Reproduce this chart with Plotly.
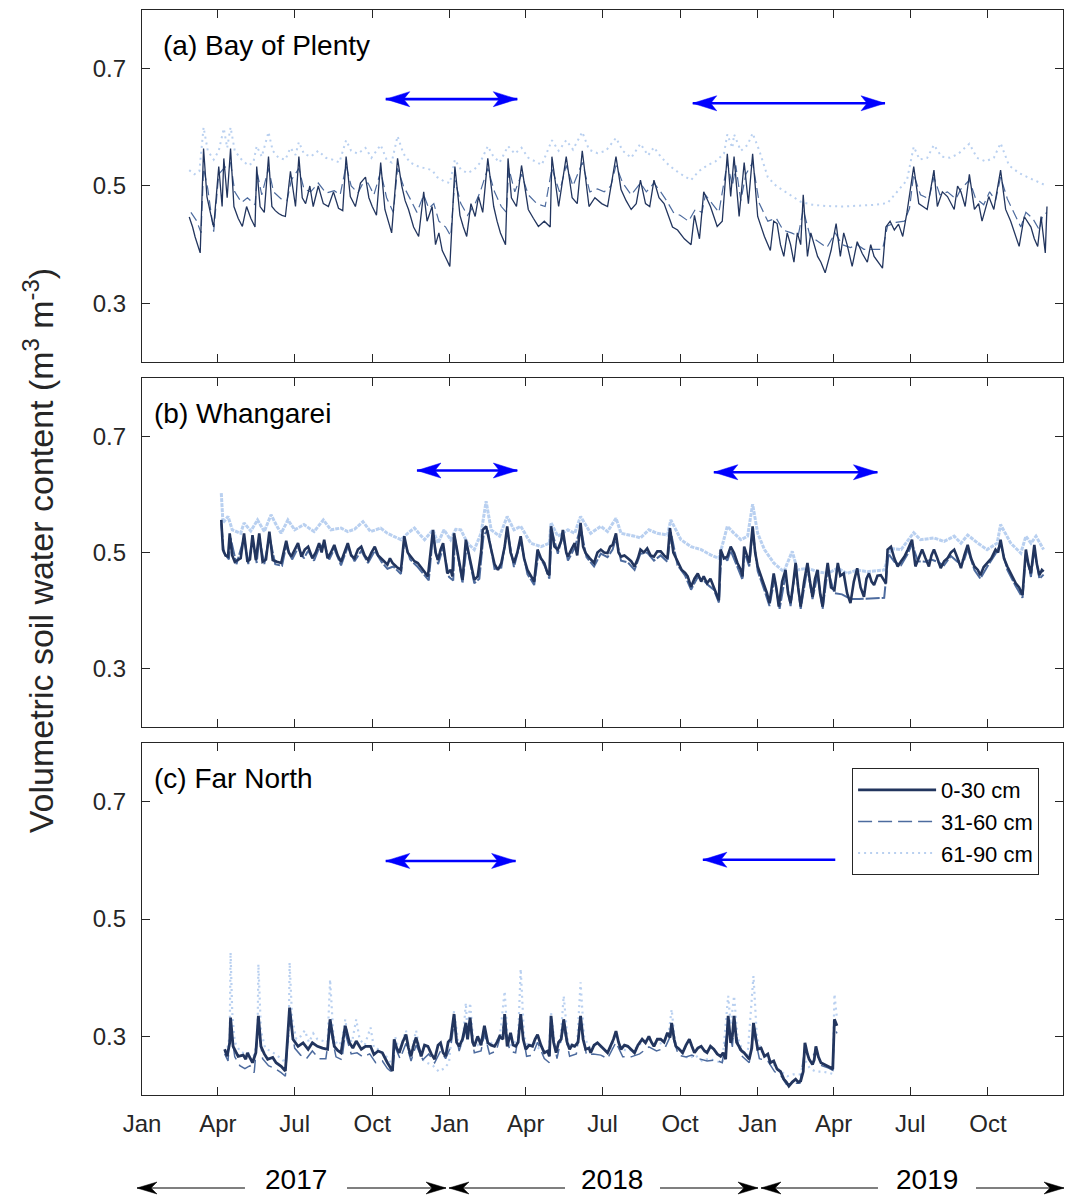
import pandas as pd
import plotly.graph_objects as go

# Soil water content at three depths, three sites.
# Each record: (days since 1 Jan 2017, volumetric water content m3/m3)
START = pd.Timestamp("2017-01-01")

bop_0_30 = [
    (56, .447), (60, .430), (63, .413), (69, .386), (73, .564), (77, .482), (81, .455), (85, .430),
    (91, .533), (95, .465), (97, .547), (101, .480), (105, .564), (109, .465), (114, .445), (119, .431),
    (124, .465), (129, .445), (134, .430), (136, .533), (140, .465), (145, .455), (150, .550), (154, .465),
    (158, .458), (162, .453), (166, .450), (170, .448), (176, .525), (182, .465), (186, .550), (190, .480),
    (194, .470), (199, .500), (203, .465), (209, .500), (215, .470), (221, .465), (227, .490), (233, .462),
    (238, .458), (242, .550), (247, .482), (253, .465), (259, .505), (265, .515), (269, .480), (273, .465),
    (278, .450), (283, .540), (288, .460), (292, .438), (296, .420), (303, .547), (308, .500), (312, .475),
    (316, .460), (322, .430), (328, .414), (334, .490), (338, .440), (344, .465), (348, .400), (352, .420),
    (356, .390), (361, .375), (365, .363), (371, .533), (377, .450), (381, .430), (385, .414), (390, .470),
    (395, .448), (399, .482), (404, .455), (410, .547), (417, .465), (421, .440), (425, .420), (431, .400),
    (434, .547), (438, .480), (444, .465), (450, .535), (458, .460), (464, .445), (470, .431), (477, .440),
    (484, .430), (486, .550), (494, .465), (503, .550), (510, .480), (516, .470), (522, .560), (530, .465),
    (537, .480), (545, .470), (552, .465), (562, .550), (568, .494), (574, .475), (580, .460), (586, .470),
    (591, .510), (597, .470), (602, .465), (607, .510), (613, .480), (619, .470), (624, .450), (629, .430),
    (635, .425), (643, .410), (651, .400), (655, .450), (661, .410), (666, .490), (674, .465), (682, .431),
    (688, .440), (694, .555), (698, .482), (702, .550), (708, .448), (714, .540), (719, .470), (724, .555),
    (730, .448), (738, .414), (745, .390), (749, .440), (753, .436), (757, .400), (761, .380), (765, .420),
    (769, .400), (773, .370), (777, .420), (781, .400), (784, .485), (789, .380), (793, .420), (797, .400),
    (801, .380), (805, .370), (810, .352), (817, .390), (823, .436), (828, .380), (832, .420), (836, .400),
    (842, .363), (848, .405), (854, .385), (860, .370), (864, .400), (868, .380), (873, .370), (878, .360),
    (882, .430), (887, .440), (892, .425), (897, .435), (902, .414), (907, .455), (915, .533), (921, .470),
    (926, .465), (931, .460), (939, .527), (943, .465), (949, .490), (955, .482), (963, .460), (967, .500),
    (971, .490), (976, .465), (981, .520), (987, .460), (992, .470), (996, .440), (1004, .482), (1010, .460),
    (1018, .527), (1024, .460), (1030, .440), (1035, .420), (1040, .397), (1046, .448), (1050, .440),
    (1054, .430), (1058, .410), (1062, .397), (1066, .448), (1071, .386), (1073, .465),
]

bop_31_60 = [
    (58, .455), (65, .440), (70, .420), (73, .530), (78, .495), (85, .422), (91, .520), (97, .530),
    (105, .540), (110, .490), (118, .472), (125, .480), (134, .468), (137, .520), (142, .485), (150, .530),
    (156, .490), (165, .478), (172, .475), (177, .510), (186, .530), (192, .495), (200, .490), (209, .505),
    (218, .488), (228, .492), (235, .485), (242, .535), (248, .500), (256, .488), (262, .505), (268, .505),
    (275, .485), (283, .525), (290, .480), (298, .455), (303, .530), (310, .500), (318, .478), (326, .455),
    (334, .485), (340, .462), (346, .470), (352, .440), (360, .430), (366, .415), (371, .510), (378, .470),
    (386, .450), (395, .470), (401, .490), (410, .530), (418, .490), (426, .465), (432, .455), (435, .530),
    (442, .490), (450, .520), (458, .485), (468, .470), (478, .465), (486, .530), (495, .490), (503, .535),
    (511, .500), (522, .540), (531, .490), (540, .495), (548, .490), (556, .500), (562, .535), (570, .505),
    (580, .485), (591, .505), (598, .490), (607, .505), (615, .490), (622, .475), (630, .455), (638, .450),
    (648, .440), (656, .460), (664, .455), (668, .485), (676, .470), (684, .455), (694, .540), (700, .500),
    (704, .535), (710, .475), (716, .520), (724, .540), (732, .470), (742, .440), (752, .445), (760, .425),
    (770, .420), (778, .415), (784, .460), (792, .415), (802, .405), (812, .395), (822, .420), (830, .400),
    (840, .395), (848, .400), (856, .392), (866, .392), (878, .392), (884, .432), (894, .438), (904, .440),
    (910, .462), (915, .520), (923, .485), (933, .478), (939, .515), (946, .485), (955, .490), (965, .478),
    (971, .495), (981, .510), (988, .480), (998, .468), (1005, .490), (1012, .475), (1018, .515),
    (1026, .478), (1034, .455), (1042, .430), (1048, .455), (1056, .445), (1064, .425), (1068, .450),
    (1073, .455),
]

bop_61_90 = [
    (56, .527), (62, .520), (68, .525), (73, .600), (78, .560), (85, .545), (91, .560), (97, .598),
    (101, .565), (105, .600), (110, .560), (118, .545), (126, .535), (132, .540), (136, .568), (142, .550),
    (150, .592), (155, .560), (162, .548), (170, .545), (176, .565), (182, .553), (186, .575), (192, .555),
    (200, .550), (209, .560), (218, .548), (226, .545), (234, .540), (242, .578), (248, .560), (256, .555),
    (265, .565), (272, .548), (283, .570), (290, .545), (296, .540), (303, .585), (310, .555), (318, .540),
    (328, .533), (336, .530), (344, .527), (350, .515), (358, .508), (365, .505), (371, .545), (378, .528),
    (386, .522), (394, .528), (401, .540), (410, .568), (416, .552), (424, .540), (434, .568), (442, .555),
    (450, .565), (458, .548), (466, .542), (474, .536), (486, .578), (494, .560), (503, .578), (511, .562),
    (522, .592), (530, .562), (540, .556), (550, .560), (562, .582), (570, .560), (580, .548), (591, .572),
    (600, .552), (607, .566), (615, .550), (625, .535), (637, .522), (651, .510), (660, .525), (670, .535),
    (680, .542), (690, .555), (694, .588), (700, .565), (702, .588), (710, .560), (718, .570), (724, .590),
    (732, .560), (742, .515), (752, .500), (765, .488), (781, .473), (795, .468), (810, .466), (830, .465),
    (850, .466), (870, .468), (884, .471), (895, .490), (907, .510), (915, .567), (922, .545), (931, .548),
    (939, .570), (948, .550), (958, .548), (968, .555), (981, .572), (990, .548), (1000, .542), (1010, .548),
    (1018, .573), (1028, .535), (1040, .522), (1050, .515), (1060, .508), (1073, .500),
]

wha_0_30 = [
    (94, .556), (96, .505), (99, .495), (102, .493), (104, .533), (107, .495), (110, .484), (114, .488),
    (117, .490), (121, .533), (125, .484), (128, .488), (131, .530), (135, .487), (139, .533), (143, .484),
    (147, .488), (151, .536), (155, .487), (160, .484), (165, .482), (171, .520), (174, .500), (177, .493),
    (181, .505), (185, .516), (189, .493), (193, .505), (197, .510), (202, .490), (206, .500), (210, .516),
    (213, .500), (216, .522), (220, .490), (224, .500), (228, .513), (232, .495), (236, .484), (240, .500),
    (244, .516), (248, .495), (252, .490), (256, .505), (260, .510), (264, .495), (268, .487), (272, .500),
    (276, .510), (280, .495), (283, .490), (287, .485), (291, .479), (294, .490), (297, .482), (302, .475),
    (307, .470), (311, .528), (315, .500), (319, .493), (323, .485), (327, .482), (333, .470), (339, .459),
    (345, .539), (348, .500), (351, .487), (354, .505), (357, .516), (362, .464), (366, .470), (368, .459),
    (370, .533), (376, .482), (380, .453), (384, .522), (389, .490), (394, .453), (398, .459), (402, .500),
    (404, .539), (408, .545), (414, .505), (418, .480), (422, .470), (426, .482), (430, .510), (433, .545),
    (437, .500), (441, .482), (445, .500), (449, .528), (453, .490), (457, .470), (461, .460), (465, .450),
    (469, .505), (473, .490), (477, .482), (481, .464), (483, .461), (485, .545), (489, .510), (493, .505),
    (497, .520), (499, .539), (503, .500), (505, .493), (509, .505), (513, .516), (516, .495), (520, .551),
    (523, .510), (526, .499), (531, .490), (536, .482), (540, .500), (544, .505), (548, .500), (552, .499),
    (555, .510), (558, .513), (562, .533), (565, .500), (568, .493), (572, .495), (576, .490), (580, .485),
    (584, .476), (588, .490), (591, .505), (595, .500), (599, .507), (603, .495), (607, .493), (611, .502),
    (615, .502), (619, .495), (623, .490), (626, .542), (630, .500), (635, .484), (640, .470), (644, .465),
    (647, .459), (651, .441), (655, .455), (659, .464), (663, .450), (666, .459), (670, .447), (674, .455),
    (678, .441), (684, .418), (686, .505), (690, .490), (694, .493), (698, .510), (702, .499), (706, .482),
    (710, .470), (712, .459), (714, .510), (717, .495), (720, .482), (724, .545), (727, .500), (730, .476),
    (734, .460), (738, .441), (741, .430), (744, .413), (749, .464), (752, .440), (755, .407), (759, .450),
    (763, .470), (766, .430), (769, .413), (772, .445), (775, .482), (778, .440), (781, .407), (785, .450),
    (789, .482), (792, .450), (795, .424), (798, .455), (801, .470), (804, .430), (807, .407), (810, .450),
    (813, .482), (817, .440), (821, .436), (825, .482), (828, .460), (832, .464), (836, .430), (840, .413),
    (844, .450), (848, .473), (852, .440), (856, .424), (859, .455), (862, .464), (865, .450), (868, .444),
    (872, .460), (876, .461), (880, .450), (882, .447), (884, .505), (888, .510), (892, .490), (896, .476),
    (900, .485), (904, .493), (908, .505), (913, .522), (917, .476), (921, .490), (925, .505), (929, .490),
    (933, .476), (936, .495), (939, .505), (943, .490), (947, .473), (951, .485), (955, .490), (959, .500),
    (963, .505), (967, .490), (971, .473), (975, .495), (979, .513), (983, .490), (987, .476), (991, .470),
    (994, .461), (998, .475), (1002, .482), (1007, .490), (1012, .505), (1015, .500), (1018, .522),
    (1022, .490), (1026, .476), (1031, .460), (1036, .447), (1040, .440), (1044, .427), (1048, .505),
    (1051, .480), (1054, .464), (1058, .513), (1061, .480), (1064, .461), (1067, .470), (1069, .467),
]

wha_31_60 = [
    (94, .550), (97, .500), (103, .488), (105, .525), (112, .480), (121, .525), (126, .480), (131, .522),
    (136, .482), (139, .525), (145, .480), (151, .528), (158, .480), (166, .477), (171, .512), (178, .488),
    (185, .508), (192, .490), (197, .503), (204, .486), (210, .508), (216, .515), (222, .488), (228, .506),
    (236, .478), (244, .510), (252, .485), (260, .503), (268, .482), (276, .503), (284, .484), (291, .472),
    (298, .476), (307, .463), (311, .520), (318, .488), (327, .475), (336, .460), (340, .452), (345, .530),
    (351, .480), (357, .508), (364, .458), (369, .452), (371, .525), (380, .447), (385, .512), (394, .447),
    (400, .455), (405, .530), (410, .538), (418, .472), (426, .474), (433, .538), (441, .475), (449, .520),
    (457, .463), (465, .444), (470, .498), (478, .475), (483, .455), (486, .538), (493, .498), (499, .530),
    (505, .486), (513, .508), (520, .543), (527, .492), (536, .476), (544, .498), (552, .492), (558, .505),
    (562, .525), (568, .486), (576, .483), (584, .470), (591, .498), (599, .500), (607, .486), (615, .495),
    (623, .484), (627, .535), (635, .478), (644, .460), (651, .436), (659, .458), (666, .452), (672, .443),
    (678, .436), (684, .414), (687, .498), (694, .486), (698, .503), (706, .475), (712, .453), (714, .502),
    (720, .476), (724, .538), (730, .468), (738, .435), (744, .408), (750, .455), (756, .403), (763, .462),
    (769, .408), (775, .474), (781, .403), (789, .474), (795, .420), (801, .462), (807, .403), (813, .470),
    (821, .430), (830, .428), (840, .420), (850, .420), (860, .421), (870, .421), (880, .422), (885, .498),
    (892, .484), (900, .478), (908, .498), (913, .515), (920, .485), (929, .484), (936, .488), (943, .484),
    (951, .478), (959, .494), (967, .484), (975, .488), (979, .506), (987, .470), (994, .455), (1002, .475),
    (1012, .498), (1018, .515), (1026, .470), (1036, .442), (1044, .422), (1048, .498), (1054, .458),
    (1058, .505), (1064, .455), (1069, .462),
]

wha_61_90 = [
    (94, .602), (96, .551), (102, .562), (107, .539), (117, .533), (121, .551), (129, .537), (137, .556),
    (145, .536), (153, .565), (160, .545), (165, .533), (173, .556), (181, .539), (192, .548), (204, .536),
    (215, .556), (224, .539), (236, .542), (244, .536), (252, .540), (262, .553), (271, .536), (283, .542),
    (291, .533), (299, .528), (307, .522), (315, .533), (323, .542), (330, .530), (335, .522), (345, .539),
    (351, .516), (358, .539), (366, .522), (372, .540), (378, .539), (386, .516), (394, .505), (402, .533),
    (408, .588), (414, .539), (424, .528), (433, .562), (441, .539), (449, .545), (461, .516), (473, .510),
    (483, .516), (485, .551), (493, .528), (505, .539), (513, .533), (520, .562), (532, .533), (544, .545),
    (552, .536), (562, .559), (568, .533), (584, .528), (591, .525), (601, .539), (611, .533), (623, .530),
    (627, .556), (639, .522), (651, .510), (663, .505), (674, .496), (684, .490), (694, .545), (702, .533),
    (710, .522), (718, .528), (724, .583), (730, .533), (738, .505), (749, .482), (761, .467), (771, .502),
    (777, .470), (789, .473), (801, .467), (813, .464), (825, .473), (836, .464), (848, .470), (860, .467),
    (880, .470), (888, .507), (900, .505), (915, .534), (923, .522), (939, .525), (951, .519), (963, .528),
    (971, .516), (979, .530), (991, .516), (1002, .505), (1014, .516), (1018, .548), (1030, .516),
    (1042, .499), (1048, .528), (1054, .516), (1060, .528), (1069, .505),
]

fn_0_30 = [
    (98, .278), (101, .266), (104, .289), (105, .332), (108, .283), (114, .266), (120, .268), (123, .261),
    (125, .272), (131, .255), (135, .272), (138, .335), (141, .283), (145, .270), (149, .261), (155, .264),
    (159, .255), (165, .249), (170, .241), (175, .349), (179, .295), (185, .283), (191, .289), (197, .278),
    (202, .289), (208, .283), (214, .280), (220, .278), (223, .329), (228, .283), (232, .276), (236, .272),
    (241, .318), (246, .289), (250, .280), (254, .292), (260, .278), (265, .283), (271, .283), (275, .269),
    (280, .275), (285, .272), (291, .255), (297, .241), (299, .295), (302, .280), (305, .272), (309, .290),
    (313, .303), (316, .280), (319, .266), (322, .285), (325, .298), (328, .280), (331, .266), (335, .285),
    (339, .283), (343, .270), (347, .261), (351, .285), (354, .289), (357, .272), (360, .266), (363, .290),
    (366, .295), (370, .338), (373, .290), (376, .283), (380, .295), (384, .323), (386, .295), (389, .332),
    (392, .290), (394, .283), (398, .300), (402, .285), (406, .318), (410, .289), (414, .285), (418, .283),
    (421, .290), (424, .300), (428, .295), (430, .338), (433, .283), (437, .306), (440, .285), (443, .283),
    (446, .290), (449, .338), (452, .295), (455, .278), (459, .285), (463, .283), (466, .295), (469, .303),
    (473, .285), (477, .272), (481, .275), (483, .266), (485, .335), (488, .290), (491, .272), (494, .290),
    (497, .295), (500, .329), (504, .290), (507, .278), (510, .285), (513, .283), (517, .290), (520, .335),
    (523, .295), (526, .278), (530, .280), (532, .272), (536, .285), (540, .289), (544, .283), (548, .278),
    (552, .272), (556, .285), (559, .295), (562, .309), (565, .290), (568, .278), (572, .285), (576, .283),
    (580, .278), (584, .272), (588, .285), (593, .295), (597, .289), (601, .300), (604, .290), (607, .283),
    (611, .295), (615, .295), (619, .290), (623, .306), (626, .298), (628, .323), (631, .295), (633, .283),
    (637, .278), (641, .272), (645, .285), (649, .295), (652, .283), (655, .272), (659, .280), (663, .283),
    (667, .275), (670, .272), (674, .283), (678, .278), (682, .270), (686, .266), (689, .272), (692, .261),
    (695, .335), (698, .289), (700, .300), (702, .335), (705, .290), (708, .283), (711, .275), (714, .272),
    (717, .266), (720, .261), (723, .280), (725, .323), (728, .295), (730, .278), (734, .280), (738, .266),
    (742, .270), (745, .255), (749, .258), (753, .244), (757, .240), (761, .227), (764, .222), (767, .215),
    (771, .222), (775, .227), (778, .222), (781, .224), (784, .240), (786, .289), (789, .270), (791, .261),
    (795, .252), (797, .260), (799, .283), (802, .265), (805, .255), (809, .252), (813, .250), (816, .247),
    (819, .244), (821, .329), (824, .318),
]

fn_31_60 = [
    (98, .270), (102, .258), (105, .315), (110, .265), (116, .250), (122, .245), (128, .250), (133, .238),
    (138, .318), (143, .262), (150, .250), (158, .245), (165, .238), (170, .232), (175, .335), (181, .280),
    (188, .268), (195, .262), (202, .275), (210, .262), (218, .262), (223, .315), (230, .265), (237, .260),
    (241, .305), (248, .270), (255, .272), (262, .265), (270, .270), (277, .255), (285, .258), (291, .245),
    (297, .238), (300, .282), (306, .262), (313, .288), (319, .258), (325, .285), (333, .260), (340, .270),
    (347, .255), (354, .275), (360, .262), (366, .282), (370, .322), (376, .275), (384, .310), (389, .318),
    (394, .272), (402, .275), (406, .305), (412, .270), (420, .275), (430, .325), (436, .275), (443, .272),
    (449, .325), (456, .266), (463, .268), (469, .290), (477, .262), (483, .255), (485, .318), (492, .262),
    (500, .315), (507, .266), (515, .270), (520, .322), (527, .268), (535, .270), (544, .268), (552, .262),
    (562, .290), (570, .265), (580, .265), (590, .270), (601, .282), (610, .275), (620, .280), (628, .305),
    (636, .268), (645, .265), (652, .268), (660, .262), (670, .258), (680, .260), (688, .255), (695, .320),
    (700, .282), (702, .320), (710, .268), (720, .255), (725, .310), (732, .262), (742, .258), (750, .240),
    (758, .232), (764, .218), (772, .220), (780, .220), (786, .280), (792, .258), (799, .275), (806, .250),
    (814, .246), (819, .242), (821, .315), (824, .305),
]

fn_61_90 = [
    (98, .272), (101, .278), (104, .300), (105, .443), (107, .340), (110, .290), (116, .275), (122, .270),
    (128, .272), (133, .268), (137, .300), (138, .423), (141, .310), (146, .280), (152, .275), (158, .270),
    (165, .262), (170, .255), (174, .300), (175, .426), (178, .330), (183, .295), (188, .300), (193, .310),
    (198, .290), (203, .305), (208, .295), (214, .292), (220, .290), (223, .397), (227, .300), (232, .285),
    (237, .290), (241, .329), (244, .300), (249, .290), (254, .329), (258, .295), (264, .285), (271, .315),
    (275, .280), (281, .278), (287, .270), (292, .262), (297, .250), (300, .300), (305, .275), (313, .310),
    (318, .265), (325, .310), (331, .262), (338, .255), (345, .250), (352, .240), (358, .245), (364, .255),
    (370, .343), (375, .290), (380, .285), (384, .357), (386, .300), (389, .357), (393, .290), (398, .285),
    (404, .300), (410, .285), (416, .290), (424, .295), (430, .377), (434, .285), (440, .285), (446, .300),
    (449, .415), (453, .300), (458, .282), (465, .290), (470, .280), (477, .275), (482, .270), (485, .340),
    (490, .280), (496, .290), (500, .369), (505, .290), (510, .280), (516, .290), (520, .392), (524, .300),
    (530, .282), (537, .285), (544, .282), (550, .275), (556, .280), (562, .300), (568, .280), (575, .275),
    (584, .278), (593, .290), (601, .295), (610, .285), (618, .290), (624, .300), (628, .346), (632, .290),
    (640, .272), (648, .262), (656, .268), (664, .258), (672, .262), (680, .258), (688, .255), (695, .369),
    (698, .320), (702, .369), (706, .300), (712, .275), (718, .268), (725, .403), (729, .300), (734, .275),
    (742, .262), (750, .250), (758, .240), (765, .232), (772, .235), (780, .235), (786, .260), (792, .245),
    (799, .240), (806, .240), (814, .238), (819, .236), (821, .372), (824, .330),
]

depth_names = ["0-30 cm", "31-60 cm", "61-90 cm"]
site_labels = ["(a) Bay of Plenty", "(b) Whangarei", "(c) Far North"]
sites = [
    [bop_0_30, bop_31_60, bop_61_90],
    [wha_0_30, wha_31_60, wha_61_90],
    [fn_0_30, fn_31_60, fn_61_90],
]

# Blue period markers: (left date, right date, value, double-headed)
period_arrows = [
    [("2017-10-17", "2018-03-22", 0.648, True), ("2018-10-16", "2019-06-01", 0.641, True)],
    [("2017-11-23", "2018-03-22", 0.641, True), ("2018-11-10", "2019-05-23", 0.638, True)],
    [("2017-10-17", "2018-03-20", 0.599, True), ("2018-10-28", "2019-04-03", 0.601, False)],
]

years = ["2017", "2018", "2019"]
x_range = ["2017-01-01", "2019-12-29"]
tick_dates = pd.date_range("2017-01-01", "2019-10-01", freq="QS")
tick_text = ["Jan", "Apr", "Jul", "Oct"] * 3
y_ticks = [0.3, 0.5, 0.7]

COLORS = ["#22355e", "#4d6b9e", "#b9d0f0"]
FONT = "Liberation Sans, Arial, Helvetica, sans-serif"
TXT = "#262626"

# per-panel line styles: (width, dash) for each depth
styles = [
    [(1.3, "solid"), (1.2, "10px,5px"), (2.0, "2px,4px")],
    [(2.6, "solid"), (2.0, "14px,2px"), (3.0, "4px,1px")],
    [(2.8, "solid"), (1.5, "14px,6px"), (2.2, "2px,4px")],
]

domains = [[0.6756, 1.0], [0.3392, 0.6608], [0.0, 0.3244]]


def to_dates(days):
    return START + pd.to_timedelta(days, unit="D")


fig = go.Figure()

for p, series in enumerate(sites):
    xa = "x" if p == 0 else f"x{p + 1}"
    ya = "y" if p == 0 else f"y{p + 1}"
    for d in (2, 1, 0):
        days, vals = zip(*series[d])
        w, dash = styles[p][d]
        fig.add_trace(go.Scatter(
            x=to_dates(list(days)), y=list(vals), mode="lines",
            name=depth_names[d], xaxis=xa, yaxis=ya,
            line=dict(color=COLORS[d], width=w, dash=dash),
            showlegend=(p == 2), legendrank=d + 1,
        ))

axis_common = dict(
    showline=True, linecolor=TXT, linewidth=1.4, mirror="ticks",
    ticks="inside", ticklen=8, tickwidth=1.4, tickcolor=TXT,
    showgrid=False, zeroline=False,
    tickfont=dict(family=FONT, size=24, color=TXT),
)

layout = dict(
    width=1067, height=1195,
    margin=dict(l=142, r=4, t=10, b=100),
    paper_bgcolor="white", plot_bgcolor="white",
    hovermode=False,
    font=dict(family=FONT, color=TXT),
    legend=dict(
        x=0.771, y=0.3014, xanchor="left", yanchor="top",
        bgcolor="white", bordercolor=TXT, borderwidth=1,
        font=dict(family=FONT, size=22, color="black"),
        itemwidth=78, tracegroupgap=0,
    ),
)

for p in range(3):
    sx = "" if p == 0 else str(p + 1)
    layout[f"xaxis{sx}"] = dict(
        axis_common, type="date", range=x_range, domain=[0, 1],
        anchor=f"y{sx}", tickvals=list(tick_dates), ticktext=tick_text,
        showticklabels=(p == 2), ticklabelstandoff=7,
        **({} if p == 0 else {"matches": "x"}),
    )
    layout[f"yaxis{sx}"] = dict(
        axis_common, range=[0.2, 0.8], domain=domains[p], anchor=f"x{sx}",
        tickvals=y_ticks, ticktext=[f"{v:.1f}" for v in y_ticks],
        ticklabelstandoff=10,
    )

fig.update_layout(**layout)

annotations = []
shapes = []


def arrow_head(xref, yref, x, y, pointing_right, length, half, notch, color):
    s = 1 if pointing_right else -1
    path = (f"M0,0 L{-s * length},{half} L{-s * (length - notch)},0 "
            f"L{-s * length},{-half} Z")
    shapes.append(dict(
        type="path", xref=xref, yref=yref, xsizemode="pixel", ysizemode="pixel",
        xanchor=x, yanchor=y, path=path, fillcolor=color,
        line=dict(color=color, width=0.5), layer="above",
    ))


# blue period arrows inside each panel
for p, arrows in enumerate(period_arrows):
    sx = "" if p == 0 else str(p + 1)
    for left, right, val, both in arrows:
        shapes.append(dict(type="line", xref=f"x{sx}", yref=f"y{sx}",
                           x0=left, x1=right, y0=val, y1=val,
                           line=dict(color="#0000ff", width=2.6), layer="above"))
        arrow_head(f"x{sx}", f"y{sx}", left, val, False, 24, 7.5, 6, "#0000ff")
        if both:
            arrow_head(f"x{sx}", f"y{sx}", right, val, True, 24, 7.5, 6, "#0000ff")

# panel titles
for p, label in enumerate(site_labels):
    sx = "" if p == 0 else str(p + 1)
    annotations.append(dict(
        text=label, xref=f"x{sx} domain", yref=f"y{sx} domain",
        x=0.021 if p == 0 else 0.011, y=0.898, xanchor="left", yanchor="middle",
        showarrow=False, font=dict(family=FONT, size=28, color="black"),
    ))

# shared y-axis title
annotations.append(dict(
    text="Volumetric soil water content (m<sup>3</sup> m<sup>-3</sup>)",
    xref="paper", yref="paper", x=-0.113, y=0.502, textangle=-90,
    xanchor="center", yanchor="middle", showarrow=False,
    font=dict(family=FONT, size=34, color=TXT),
))

# year bands below the date axis
year_y = -0.0857
year_bounds = [(-0.0054, 0.1118, 0.2226, 0.3301),
               (0.3333, 0.4593, 0.5624, 0.6688),
               (0.6721, 0.7991, 0.9055, 1.0011)]
for yr, (a0, a1, b0, b1) in zip(years, year_bounds):
    shapes.append(dict(type="line", xref="paper", yref="paper", x0=a0, x1=a1,
                       y0=year_y, y1=year_y, line=dict(color="black", width=1.2)))
    shapes.append(dict(type="line", xref="paper", yref="paper", x0=b0, x1=b1,
                       y0=year_y, y1=year_y, line=dict(color="black", width=1.2)))
    arrow_head("paper", "paper", a0, year_y, False, 20, 6, 6, "black")
    arrow_head("paper", "paper", b1, year_y, True, 20, 6, 6, "black")
    annotations.append(dict(
        text=yr, xref="paper", yref="paper", x=(a1 + b0) / 2, y=-0.0783,
        xanchor="center", yanchor="middle", showarrow=False,
        font=dict(family=FONT, size=28, color="black"),
    ))

fig.update_layout(annotations=annotations, shapes=shapes)

fig.write_html("out.html")
